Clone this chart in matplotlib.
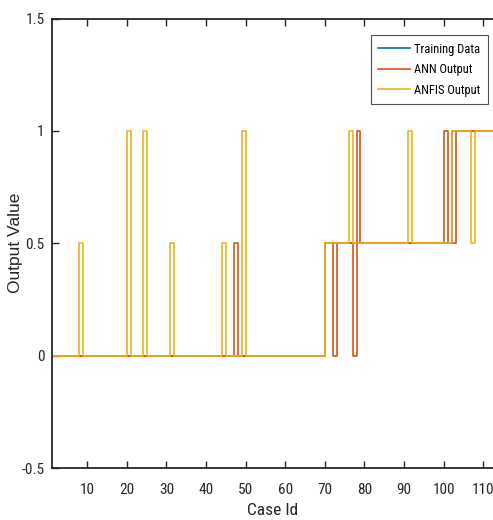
import numpy as np
import matplotlib
matplotlib.use("Agg")
import matplotlib.pyplot as plt
from matplotlib import font_manager

names = {f.name for f in font_manager.fontManager.ttflist}
narrow = [n for n in ['Liberation Sans Narrow', 'Roboto Condensed', 'DejaVu Sans Condensed'] if n in names]
plt.rcParams['font.family'] = narrow[:1] + ['Liberation Sans', 'DejaVu Sans']

# case ids 1..113, rows of 10 cases
case_id = list(range(1, 114))

training = [
    0, 0, 0, 0, 0, 0, 0, 0, 0, 0,
    0, 0, 0, 0, 0, 0, 0, 0, 0, 0,
    0, 0, 0, 0, 0, 0, 0, 0, 0, 0,
    0, 0, 0, 0, 0, 0, 0, 0, 0, 0,
    0, 0, 0, 0, 0, 0, 0, 0, 0, 0,
    0, 0, 0, 0, 0, 0, 0, 0, 0, 0,
    0, 0, 0, 0, 0, 0, 0, 0, 0, 0.5,
    0.5, 0.5, 0.5, 0.5, 0.5, 0.5, 0.5, 0.5, 0.5, 0.5,
    0.5, 0.5, 0.5, 0.5, 0.5, 0.5, 0.5, 0.5, 0.5, 0.5,
    0.5, 0.5, 0.5, 0.5, 0.5, 0.5, 0.5, 0.5, 0.5, 0.5,
    0.5, 1, 1, 1, 1, 1, 1, 1, 1, 1,
    1, 1, 1,
]

ann = [
    0, 0, 0, 0, 0, 0, 0, 0, 0, 0,
    0, 0, 0, 0, 0, 0, 0, 0, 0, 0,
    0, 0, 0, 0, 0, 0, 0, 0, 0, 0,
    0, 0, 0, 0, 0, 0, 0, 0, 0, 0,
    0, 0, 0, 0, 0, 0, 0.5, 0, 0, 0,
    0, 0, 0, 0, 0, 0, 0, 0, 0, 0,
    0, 0, 0, 0, 0, 0, 0, 0, 0, 0.5,
    0.5, 0, 0.5, 0.5, 0.5, 0.5, 0, 1, 0.5, 0.5,
    0.5, 0.5, 0.5, 0.5, 0.5, 0.5, 0.5, 0.5, 0.5, 0.5,
    0.5, 0.5, 0.5, 0.5, 0.5, 0.5, 0.5, 0.5, 0.5, 1,
    0.5, 0.5, 1, 1, 1, 1, 1, 1, 1, 1,
    1, 1, 1,
]

anfis = [
    0, 0, 0, 0, 0, 0, 0, 0.5, 0, 0,
    0, 0, 0, 0, 0, 0, 0, 0, 0, 1,
    0, 0, 0, 1, 0, 0, 0, 0, 0, 0,
    0.5, 0, 0, 0, 0, 0, 0, 0, 0, 0,
    0, 0, 0, 0.5, 0, 0, 0, 0, 1, 0,
    0, 0, 0, 0, 0, 0, 0, 0, 0, 0,
    0, 0, 0, 0, 0, 0, 0, 0, 0, 0.5,
    0.5, 0.5, 0.5, 0.5, 0.5, 1, 0.5, 0.5, 0.5, 0.5,
    0.5, 0.5, 0.5, 0.5, 0.5, 0.5, 0.5, 0.5, 0.5, 0.5,
    1, 0.5, 0.5, 0.5, 0.5, 0.5, 0.5, 0.5, 0.5, 0.5,
    0.5, 1, 1, 1, 1, 1, 0.5, 1, 1, 1,
    1, 1, 1,
]

series = ['Training Data', 'ANN Output', 'ANFIS Output']
colors = ['#0072BD', '#D95319', '#EDB120']

x_ticks = [10, 20, 30, 40, 50, 60, 70, 80, 90, 100, 110]
y_ticks = [-0.5, 0, 0.5, 1, 1.5]
y_labels = ['-0.5', '0', '0.5', '1', '1.5']

fig = plt.figure(figsize=(4.93, 5.2), dpi=100)
ax = fig.add_axes([0.1045, 0.1, 0.8955, 0.8644])

for data, name, c in zip([training, ann, anfis], series, colors):
    ax.step(case_id, data, where='post', color=c, lw=1.2, label=name)

ax.set_xlim(1, 112.45)
ax.set_ylim(-0.5, 1.5)
ax.set_xticks(x_ticks)
ax.set_yticks(y_ticks)
ax.set_yticklabels(y_labels)

dark = '#262626'
for side in ['left', 'bottom', 'top']:
    ax.spines[side].set_linewidth(1.3)
    ax.spines[side].set_color(dark)
ax.spines['right'].set_visible(False)
ax.tick_params(direction='in', length=5, width=1, colors=dark, labelsize=11,
               top=True, right=False)
ax.tick_params(axis='x', pad=11)
ax.tick_params(axis='y', pad=5)

ax.set_xlabel('Case Id', fontsize=12.5, color=dark, labelpad=4)
ax.set_ylabel('Output Value', fontsize=12.5, color=dark,
              family=['Liberation Sans', 'DejaVu Sans'])
ax.yaxis.set_label_coords(-0.064, 0.5)

leg = ax.legend(loc='upper right', bbox_to_anchor=(0.988, 0.963), fontsize=9,
                frameon=True, fancybox=False, borderpad=0.6, labelspacing=0.6,
                handlelength=2.5, handletextpad=0.35, borderaxespad=0)
leg.get_frame().set_edgecolor(dark)
leg.get_frame().set_linewidth(0.8)

fig.savefig('out.png', dpi=100)
